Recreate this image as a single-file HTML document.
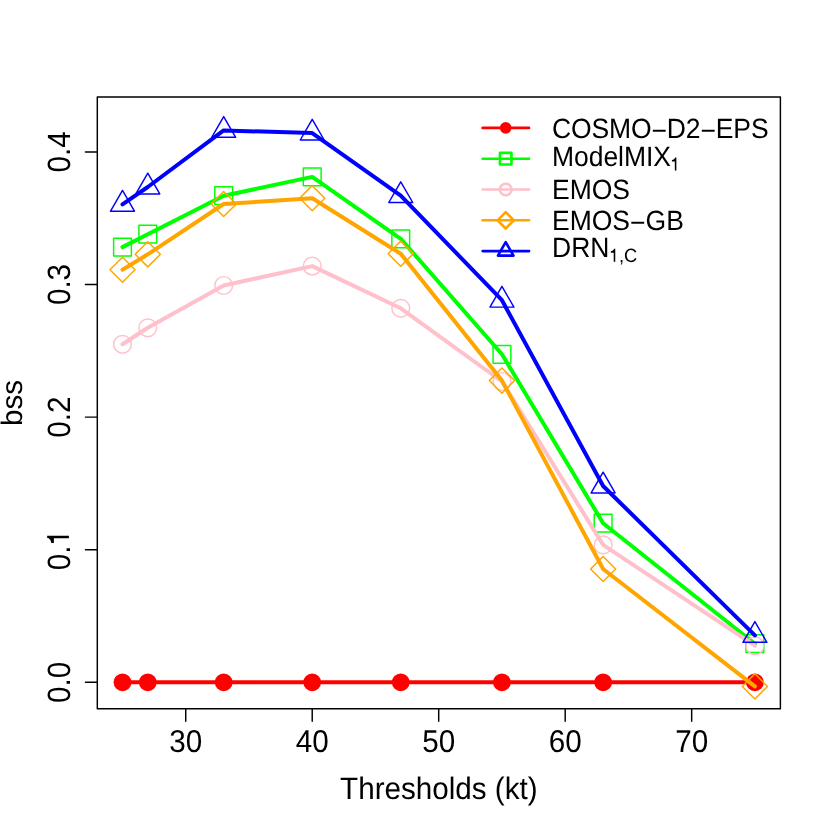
<!DOCTYPE html><html><head><meta charset="utf-8"><style>html,body{margin:0;padding:0;background:#fff}svg{display:block;will-change:transform}text{font-family:"Liberation Sans",sans-serif;fill:#000;text-rendering:geometricPrecision}</style></head><body>
<svg width="830" height="830" viewBox="0 0 830 830">
<rect width="830" height="830" fill="#fff"/>
<polyline points="122.50,682.30 147.79,682.30 223.68,682.30 312.22,682.30 400.75,682.30 501.94,682.30 603.12,682.30 754.90,682.30" fill="none" stroke="#ff0000" stroke-width="4.0" stroke-linecap="round" stroke-linejoin="round"/>
<circle cx="122.50" cy="682.30" r="8.89" fill="#ff0000"/>
<circle cx="147.79" cy="682.30" r="8.89" fill="#ff0000"/>
<circle cx="223.68" cy="682.30" r="8.89" fill="#ff0000"/>
<circle cx="312.22" cy="682.30" r="8.89" fill="#ff0000"/>
<circle cx="400.75" cy="682.30" r="8.89" fill="#ff0000"/>
<circle cx="501.94" cy="682.30" r="8.89" fill="#ff0000"/>
<circle cx="603.12" cy="682.30" r="8.89" fill="#ff0000"/>
<circle cx="754.90" cy="682.30" r="8.89" fill="#ff0000"/>
<polyline points="122.50,247.10 147.79,234.20 223.68,195.70 312.22,176.90 400.75,238.80 501.94,354.30 603.12,523.20 754.90,643.70" fill="none" stroke="#00ff00" stroke-width="4.0" stroke-linecap="round" stroke-linejoin="round"/>
<rect x="113.61" y="238.21" width="17.78" height="17.78" fill="none" stroke="#00ff00" stroke-width="1.45" stroke-linejoin="round"/>
<rect x="138.90" y="225.31" width="17.78" height="17.78" fill="none" stroke="#00ff00" stroke-width="1.45" stroke-linejoin="round"/>
<rect x="214.79" y="186.81" width="17.78" height="17.78" fill="none" stroke="#00ff00" stroke-width="1.45" stroke-linejoin="round"/>
<rect x="303.33" y="168.01" width="17.78" height="17.78" fill="none" stroke="#00ff00" stroke-width="1.45" stroke-linejoin="round"/>
<rect x="391.86" y="229.91" width="17.78" height="17.78" fill="none" stroke="#00ff00" stroke-width="1.45" stroke-linejoin="round"/>
<rect x="493.05" y="345.41" width="17.78" height="17.78" fill="none" stroke="#00ff00" stroke-width="1.45" stroke-linejoin="round"/>
<rect x="594.23" y="514.31" width="17.78" height="17.78" fill="none" stroke="#00ff00" stroke-width="1.45" stroke-linejoin="round"/>
<rect x="746.01" y="634.81" width="17.78" height="17.78" fill="none" stroke="#00ff00" stroke-width="1.45" stroke-linejoin="round"/>
<polyline points="122.50,344.30 147.79,327.80 223.68,285.50 312.22,266.10 400.75,308.30 501.94,381.50 603.12,544.90 754.90,645.70" fill="none" stroke="#ffc0cb" stroke-width="4.0" stroke-linecap="round" stroke-linejoin="round"/>
<circle cx="122.50" cy="344.30" r="8.89" fill="none" stroke="#ffc0cb" stroke-width="1.45"/>
<circle cx="147.79" cy="327.80" r="8.89" fill="none" stroke="#ffc0cb" stroke-width="1.45"/>
<circle cx="223.68" cy="285.50" r="8.89" fill="none" stroke="#ffc0cb" stroke-width="1.45"/>
<circle cx="312.22" cy="266.10" r="8.89" fill="none" stroke="#ffc0cb" stroke-width="1.45"/>
<circle cx="400.75" cy="308.30" r="8.89" fill="none" stroke="#ffc0cb" stroke-width="1.45"/>
<circle cx="501.94" cy="381.50" r="8.89" fill="none" stroke="#ffc0cb" stroke-width="1.45"/>
<circle cx="603.12" cy="544.90" r="8.89" fill="none" stroke="#ffc0cb" stroke-width="1.45"/>
<circle cx="754.90" cy="645.70" r="8.89" fill="none" stroke="#ffc0cb" stroke-width="1.45"/>
<polyline points="122.50,269.75 147.79,254.30 223.68,204.00 312.22,198.20 400.75,253.70 501.94,380.60 603.12,569.00 754.90,686.40" fill="none" stroke="#ffa500" stroke-width="4.0" stroke-linecap="round" stroke-linejoin="round"/>
<polygon points="109.92,269.75 122.50,257.18 135.07,269.75 122.50,282.32" fill="none" stroke="#ffa500" stroke-width="1.45" stroke-linejoin="round"/>
<polygon points="135.22,254.30 147.79,241.73 160.36,254.30 147.79,266.87" fill="none" stroke="#ffa500" stroke-width="1.45" stroke-linejoin="round"/>
<polygon points="211.11,204.00 223.68,191.43 236.25,204.00 223.68,216.57" fill="none" stroke="#ffa500" stroke-width="1.45" stroke-linejoin="round"/>
<polygon points="299.64,198.20 312.22,185.63 324.79,198.20 312.22,210.77" fill="none" stroke="#ffa500" stroke-width="1.45" stroke-linejoin="round"/>
<polygon points="388.18,253.70 400.75,241.13 413.32,253.70 400.75,266.27" fill="none" stroke="#ffa500" stroke-width="1.45" stroke-linejoin="round"/>
<polygon points="489.36,380.60 501.94,368.03 514.51,380.60 501.94,393.17" fill="none" stroke="#ffa500" stroke-width="1.45" stroke-linejoin="round"/>
<polygon points="590.55,569.00 603.12,556.43 615.69,569.00 603.12,581.57" fill="none" stroke="#ffa500" stroke-width="1.45" stroke-linejoin="round"/>
<polygon points="742.32,686.40 754.90,673.83 767.47,686.40 754.90,698.97" fill="none" stroke="#ffa500" stroke-width="1.45" stroke-linejoin="round"/>
<polyline points="122.50,204.30 147.79,187.00 223.68,130.40 312.22,133.10 400.75,195.60 501.94,300.20 603.12,486.00 754.90,635.40" fill="none" stroke="#0000ff" stroke-width="4.0" stroke-linecap="round" stroke-linejoin="round"/>
<polygon points="122.50,190.47 134.47,211.21 110.52,211.21" fill="none" stroke="#0000ff" stroke-width="1.45" stroke-linejoin="round"/>
<polygon points="147.79,173.17 159.76,193.91 135.82,193.91" fill="none" stroke="#0000ff" stroke-width="1.45" stroke-linejoin="round"/>
<polygon points="223.68,116.57 235.65,137.31 211.71,137.31" fill="none" stroke="#0000ff" stroke-width="1.45" stroke-linejoin="round"/>
<polygon points="312.22,119.27 324.19,140.01 300.24,140.01" fill="none" stroke="#0000ff" stroke-width="1.45" stroke-linejoin="round"/>
<polygon points="400.75,181.77 412.72,202.51 388.78,202.51" fill="none" stroke="#0000ff" stroke-width="1.45" stroke-linejoin="round"/>
<polygon points="501.94,286.37 513.91,307.11 489.96,307.11" fill="none" stroke="#0000ff" stroke-width="1.45" stroke-linejoin="round"/>
<polygon points="603.12,472.17 615.09,492.91 591.15,492.91" fill="none" stroke="#0000ff" stroke-width="1.45" stroke-linejoin="round"/>
<polygon points="754.90,621.57 766.87,642.31 742.92,642.31" fill="none" stroke="#0000ff" stroke-width="1.45" stroke-linejoin="round"/>
<rect x="97.3" y="97.0" width="683.10" height="611.75" fill="none" stroke="#000" stroke-width="1.45" stroke-linejoin="round"/>
<line x1="185.74" y1="708.75" x2="185.74" y2="721.15" stroke="#000" stroke-width="1.45" stroke-linecap="round"/>
<text transform="translate(185.74,752.3) scale(1,1.065)" font-size="29.64" text-anchor="middle">30</text>
<line x1="312.22" y1="708.75" x2="312.22" y2="721.15" stroke="#000" stroke-width="1.45" stroke-linecap="round"/>
<text transform="translate(312.22,752.3) scale(1,1.065)" font-size="29.64" text-anchor="middle">40</text>
<line x1="438.70" y1="708.75" x2="438.70" y2="721.15" stroke="#000" stroke-width="1.45" stroke-linecap="round"/>
<text transform="translate(438.70,752.3) scale(1,1.065)" font-size="29.64" text-anchor="middle">50</text>
<line x1="565.18" y1="708.75" x2="565.18" y2="721.15" stroke="#000" stroke-width="1.45" stroke-linecap="round"/>
<text transform="translate(565.18,752.3) scale(1,1.065)" font-size="29.64" text-anchor="middle">60</text>
<line x1="691.66" y1="708.75" x2="691.66" y2="721.15" stroke="#000" stroke-width="1.45" stroke-linecap="round"/>
<text transform="translate(691.66,752.3) scale(1,1.065)" font-size="29.64" text-anchor="middle">70</text>
<line x1="97.3" y1="682.30" x2="85.44" y2="682.30" stroke="#000" stroke-width="1.45" stroke-linecap="round"/>
<text transform="translate(69.6,682.30) rotate(-90) scale(1,1.084)" font-size="29.64" text-anchor="middle">0.0</text>
<line x1="97.3" y1="549.70" x2="85.44" y2="549.70" stroke="#000" stroke-width="1.45" stroke-linecap="round"/>
<text transform="translate(69.6,549.70) rotate(-90) scale(1,1.084)" x="-20.60" font-size="29.64">0.</text>
<path transform="translate(68.9,549.70) rotate(-90) translate(3.57,0) scale(0.02964,-0.03068)" d="M262 0L262 490L102 490L102 575C190 580 255 615 285 709L348 709L348 0Z"/>
<line x1="97.3" y1="417.10" x2="85.44" y2="417.10" stroke="#000" stroke-width="1.45" stroke-linecap="round"/>
<text transform="translate(69.6,417.10) rotate(-90) scale(1,1.084)" font-size="29.64" text-anchor="middle">0.2</text>
<line x1="97.3" y1="284.50" x2="85.44" y2="284.50" stroke="#000" stroke-width="1.45" stroke-linecap="round"/>
<text transform="translate(69.6,284.50) rotate(-90) scale(1,1.084)" font-size="29.64" text-anchor="middle">0.3</text>
<line x1="97.3" y1="151.90" x2="85.44" y2="151.90" stroke="#000" stroke-width="1.45" stroke-linecap="round"/>
<text transform="translate(69.6,151.90) rotate(-90) scale(1,1.084)" font-size="29.64" text-anchor="middle">0.4</text>
<text transform="translate(438.85,798.8) scale(1,1.045)" font-size="29.64" text-anchor="middle">Thresholds (kt)</text>
<text transform="translate(21.8,402.88) rotate(-90)" font-size="29.64" text-anchor="middle">bss</text>
<line x1="482.6" y1="127.9" x2="529.1" y2="127.9" stroke="#ff0000" stroke-width="2.6" stroke-linecap="round"/>
<circle cx="505.70" cy="127.90" r="5.78" fill="#ff0000"/>
<line x1="482.6" y1="158.7" x2="529.1" y2="158.7" stroke="#00ff00" stroke-width="2.6" stroke-linecap="round"/>
<rect x="499.92" y="152.92" width="11.56" height="11.56" fill="none" stroke="#00ff00" stroke-width="2.6" stroke-linejoin="round"/>
<line x1="482.6" y1="189.5" x2="529.1" y2="189.5" stroke="#ffc0cb" stroke-width="2.6" stroke-linecap="round"/>
<circle cx="505.70" cy="189.50" r="5.78" fill="none" stroke="#ffc0cb" stroke-width="2.6"/>
<line x1="482.6" y1="220.3" x2="529.1" y2="220.3" stroke="#ffa500" stroke-width="2.6" stroke-linecap="round"/>
<polygon points="497.53,220.30 505.70,212.13 513.87,220.30 505.70,228.47" fill="none" stroke="#ffa500" stroke-width="2.6" stroke-linejoin="round"/>
<line x1="482.6" y1="251.1" x2="529.1" y2="251.1" stroke="#0000ff" stroke-width="2.6" stroke-linecap="round"/>
<polygon points="505.70,242.11 513.48,255.59 497.92,255.59" fill="none" stroke="#0000ff" stroke-width="2.6" stroke-linejoin="round"/>
<text transform="translate(552.0,137.5) scale(1,1.05)" font-size="26.5" textLength="216.6" lengthAdjust="spacing">COSMO<tspan dy="2.3">−</tspan><tspan dy="-2.3">D2</tspan><tspan dy="2.3">−</tspan><tspan dy="-2.3">EPS</tspan></text>
<text transform="translate(552.0,165.9) scale(1,1.05)" font-size="26.5" textLength="118.9" lengthAdjust="spacing">ModelMIX</text>
<path transform="translate(670.1,170.4) scale(0.018,-0.0183)" d="M262 0L262 490L102 490L102 575C190 580 255 615 285 709L348 709L348 0Z"/>
<text transform="translate(552.0,199.0) scale(1,1.05)" font-size="26.5" >EMOS</text>
<text transform="translate(552.0,229.9) scale(1,1.05)" font-size="26.5" >EMOS<tspan dy="2.3">−</tspan><tspan dy="-2.3">GB</tspan></text>
<text transform="translate(552.0,256.9) scale(1,1.05)" font-size="26.5" >DRN</text>
<path transform="translate(609.0,261.8) scale(0.018,-0.0183)" d="M262 0L262 490L102 490L102 575C190 580 255 615 285 709L348 709L348 0Z"/>
<text transform="translate(618.9,261.9) scale(1,1.05)" font-size="18.3" >,C</text>
</svg></body></html>
